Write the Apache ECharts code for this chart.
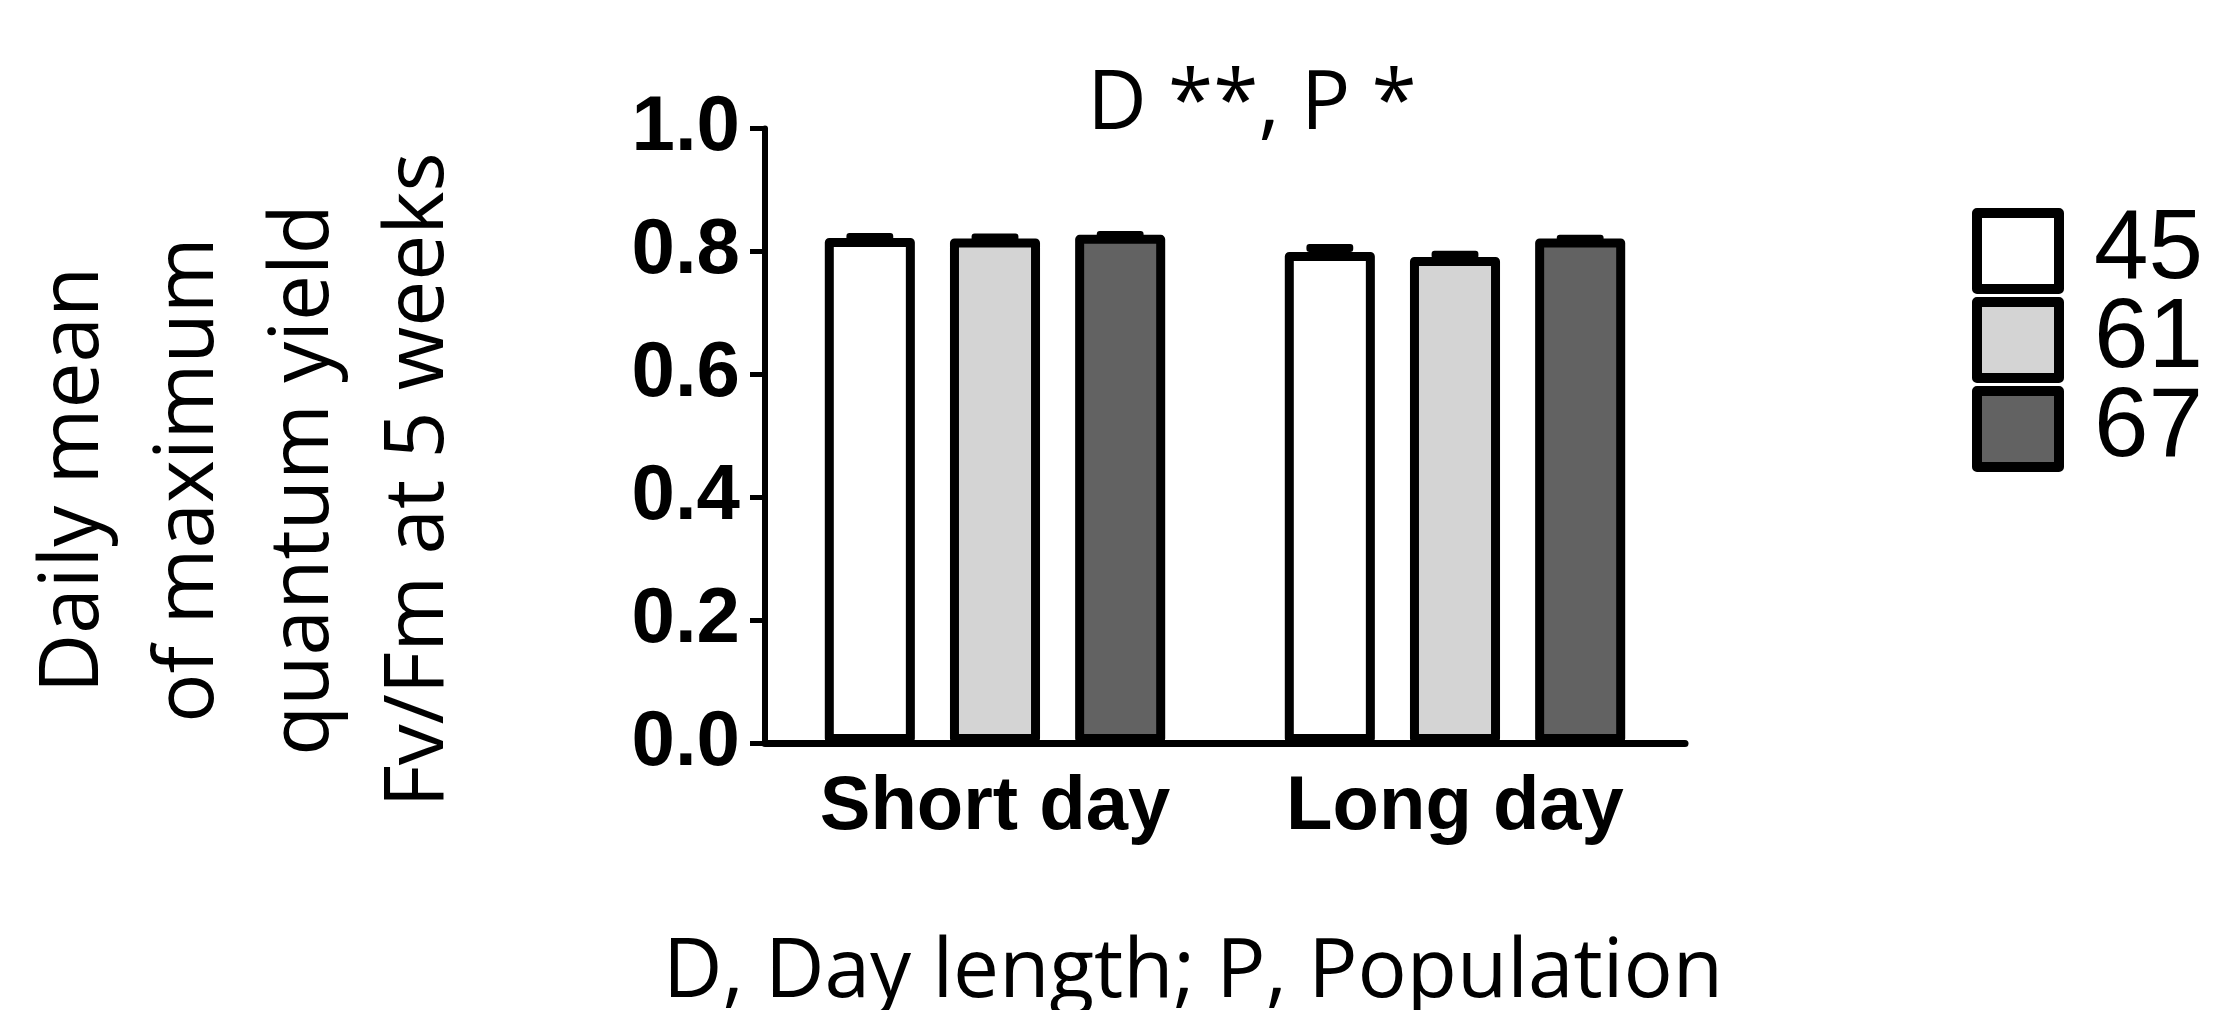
<!DOCTYPE html>
<html>
<head>
<meta charset="utf-8">
<style>
  html, body { margin: 0; padding: 0; background: #fff; }
  #chart { width: 2214px; height: 1010px; }
</style>
<script src="https://cdn.jsdelivr.net/npm/echarts@6/dist/echarts.min.js"></script>
</head>
<body>
<div id="chart"></div>
<script>
// ---- data ----
const categories = ['Short day', 'Long day'];
const populations = ['45', '61', '67'];
const means45 = [0.822, 0.799];
const means61 = [0.821, 0.791];
const means67 = [0.827, 0.821];
const err45 = [0.008, 0.013];
const err61 = [0.008, 0.010];
const err67 = [0.006, 0.006];
const yTicks = [0, 0.2, 0.4, 0.6, 0.8, 1.0];
const titleText = 'D **, P *';
const footText = 'D, Day length; P, Population';
const yTitleLines = ['Daily mean', 'of maximum', 'quantum yield', 'Fv/Fm at 5 weeks'];

const fills = ['#ffffff', '#d4d4d4', '#626262'];
const meansAll = [means45, means61, means67];
const errAll = [err45, err61, err67];

const CAT_GAP = 0.26;   // barCategoryGap fraction
const BAR_GAP = 0.39;   // barGap fraction

const chart = echarts.init(document.getElementById('chart'), null, { renderer: 'canvas' });

function makeErrRender(idx) {
  return function (params, api) {
    const cat = api.value(0);
    const v = api.value(1);
    const e = api.value(2);
    const band = api.size([1, 0])[0];
    const group = band * (1 - CAT_GAP);
    const n = populations.length;
    const bw = group / (n + (n - 1) * BAR_GAP);
    const off = -group / 2 + bw / 2 + idx * bw * (1 + BAR_GAP);
    const base = api.coord([cat, v]);
    const top = api.coord([cat, v + e]);
    const cx = base[0] + off;
    const half = bw * 0.26;
    const capH = 8;
    return {
      type: 'group',
      children: [
        { type: 'line', shape: { x1: cx, y1: base[1], x2: cx, y2: top[1] + capH / 2 },
          style: { stroke: '#000', lineWidth: 8 } },
        { type: 'rect', shape: { x: cx - half, y: top[1], width: half * 2, height: capH, r: 3 },
          style: { fill: '#000' } }
      ]
    };
  };
}

const series = [];
populations.forEach(function (p, i) {
  series.push({
    name: p,
    type: 'bar',
    data: meansAll[i],
    barGap: (BAR_GAP * 100) + '%',
    barCategoryGap: (CAT_GAP * 100) + '%',
    itemStyle: { color: fills[i], borderColor: '#000', borderWidth: 9, borderJoin: 'round' },
    emphasis: { disabled: true },
    z: 2
  });
});
populations.forEach(function (p, i) {
  series.push({
    name: p + ' err',
    type: 'custom',
    renderItem: makeErrRender(i),
    data: categories.map(function (c, k) { return [k, meansAll[i][k], errAll[i][k]]; }),
    encode: { x: 0, y: 1 },
    z: 3,
    silent: true
  });
});

const option = {
  animation: false,
  backgroundColor: '#ffffff',
  grid: { left: 765, right: 529, top: 128.5, bottom: 267, containLabel: false },
  xAxis: {
    type: 'category',
    data: categories,
    axisLine: { lineStyle: { color: '#000', width: 7 } },
    axisTick: { alignWithLabel: true, length: 17, lineStyle: { color: '#000', width: 5 } },
    axisLabel: {
      color: '#000', fontFamily: 'Liberation Sans, Arial', fontWeight: 'bold', fontSize: 76, margin: 27
    },
    splitLine: { show: false }
  },
  yAxis: {
    type: 'value',
    min: yTicks[0],
    max: yTicks[yTicks.length - 1],
    interval: 0.2,
    axisLine: { show: true, lineStyle: { color: '#000', width: 6 } },
    axisTick: { show: true, length: 15, lineStyle: { color: '#000', width: 5 } },
    axisLabel: {
      color: '#000', fontFamily: 'Liberation Sans, Arial', fontWeight: 'bold', fontSize: 78, margin: 25,
      formatter: function (v) { return v.toFixed(1); }
    },
    splitLine: { show: false }
  },
  legend: {
    data: populations,
    orient: 'vertical',
    icon: 'rect',
    left: 1972,
    top: 202,
    padding: 0,
    itemWidth: 82,
    itemHeight: 76,
    itemGap: -9,
    selectedMode: false,
    itemStyle: { borderColor: '#000', borderWidth: 10, borderJoin: 'round' },
    textStyle: {
      color: '#000', fontFamily: 'Liberation Sans, Arial', fontSize: 98, lineHeight: 88,
      padding: [0, 0, 0, 30]
    }
  },
  graphic: [
    {
      type: 'text', x: 1252, y: 106,
      style: { text: titleText, fill: '#000', font: '82px "Open Sans"', align: 'center', verticalAlign: 'middle' }
    },
    {
      type: 'text', x: 1193, y: 974,
      style: { text: footText, fill: '#000', font: '82px "Open Sans"', align: 'center', verticalAlign: 'middle' }
    },
    {
      type: 'text', x: 247, y: 480, rotation: Math.PI / 2,
      style: {
        text: yTitleLines.join('\n'), fill: '#000', font: '82px "Open Sans"',
        align: 'center', verticalAlign: 'middle', lineHeight: 115
      }
    }
  ],
  series: series
};

chart.setOption(option);
</script>
</body>
</html>
